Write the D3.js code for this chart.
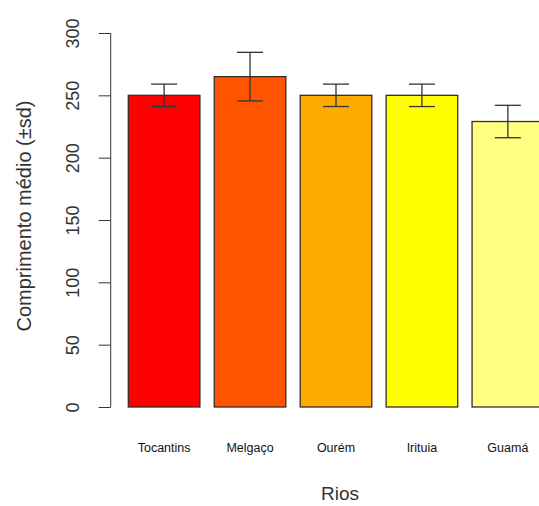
<!DOCTYPE html>
<html><head><meta charset="utf-8">
<script src="https://cdn.jsdelivr.net/npm/d3@7"></script>
<style>body{margin:0;background:#fff;} svg{display:block;}</style>
</head><body>
<svg id="c" width="539" height="506"></svg>
<script>
const categories = ["Tocantins", "Melgaço", "Ourém", "Irituia", "Guamá"];
const means = [250, 265, 250, 250, 229];
const sds = [9, 19.5, 9, 9, 13];
const colors = ["#FF0000", "#FF5500", "#FFAA00", "#FFFF00", "#FFFF80"];
const yTicks = [0, 50, 100, 150, 200, 250, 300];

const svg = d3.select("#c");
const font = "'Liberation Sans', Arial, sans-serif";

// R barplot user coordinates: width 1, space 0.2
const x = d3.scaleLinear().domain([0.2, 6.2]).range([128.3, 558]);
const y = d3.scaleLinear().domain([0, 300]).range([407, 33]);

categories.forEach((c, i) => {
  const l = 0.2 + 1.2 * i, r = l + 1;
  svg.append("rect")
    .attr("x", x(l)).attr("y", y(means[i]))
    .attr("width", x(r) - x(l)).attr("height", y(0) - y(means[i]))
    .attr("fill", colors[i]).attr("stroke", "#3a2a2a").attr("stroke-width", 1.3);
  const cx = x(l + 0.5);
  const cw = 13;
  const eg = svg.append("g").attr("stroke", "#333").attr("stroke-width", 1.3);
  eg.append("line").attr("x1", cx).attr("x2", cx).attr("y1", y(means[i] + sds[i])).attr("y2", y(means[i] - sds[i]));
  eg.append("line").attr("x1", cx - cw).attr("x2", cx + cw).attr("y1", y(means[i] + sds[i])).attr("y2", y(means[i] + sds[i]));
  eg.append("line").attr("x1", cx - cw).attr("x2", cx + cw).attr("y1", y(means[i] - sds[i])).attr("y2", y(means[i] - sds[i]));
  svg.append("text").attr("x", cx).attr("y", 452).attr("text-anchor", "middle")
    .attr("font-family", font).attr("font-size", 12.5).attr("fill", "#111").text(c);
});

// Y axis
const axisX = 110.7;
const ag = svg.append("g").attr("transform", `translate(${axisX},0)`);
ag.call(d3.axisLeft(y).tickValues(yTicks).tickSize(12).tickFormat(d3.format("d")));
ag.select(".domain").attr("stroke", "#333").attr("d", `M0,${y(0)}V${y(300)}`);
ag.selectAll(".tick line").attr("stroke", "#333");
ag.selectAll(".tick text")
  .attr("font-family", font).attr("font-size", 18).attr("fill", "#333")
  .attr("x", 0).attr("dy", 0).attr("text-anchor", "middle")
  .attr("transform", "translate(-38,0) rotate(-90)")
  .attr("y", 0).attr("dominant-baseline", "central");

svg.append("text").attr("transform", "translate(24,216) rotate(-90)")
  .attr("text-anchor", "middle").attr("dominant-baseline", "central")
  .attr("font-family", font).attr("font-size", 20).attr("fill", "#333")
  .text("Comprimento médio (±sd)");

svg.append("text").attr("x", 340).attr("y", 500).attr("text-anchor", "middle")
  .attr("font-family", font).attr("font-size", 19).attr("fill", "#333").text("Rios");
</script>
</body></html>
